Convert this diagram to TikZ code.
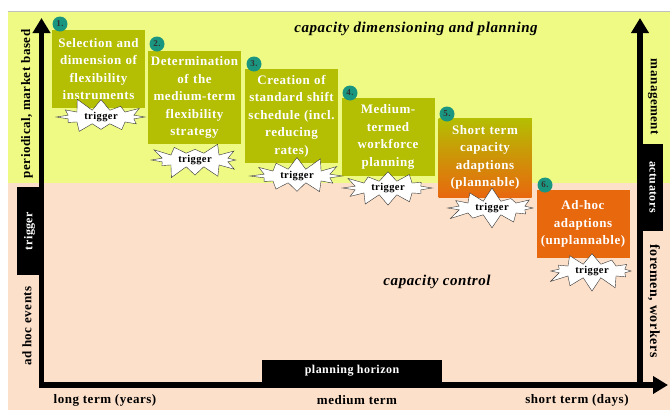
\documentclass[tikz,border=0pt]{standalone}
\usepackage{fontspec}
\setmainfont{Liberation Serif}[LetterSpace=4]
\usetikzlibrary{shapes.symbols, arrows.meta}

\definecolor{planyellow}{RGB}{238,250,132}
\definecolor{ctrlpeach}{RGB}{252,224,202}
\definecolor{stepolive}{RGB}{180,190,2}
\definecolor{steporange}{RGB}{232,104,14}
\definecolor{badgeteal}{RGB}{26,150,128}

\tikzstyle{stepbox} = [rectangle, minimum width=93pt, text width=90pt, inner xsep=1.5pt, inner ysep=0pt, align=center, text=white, fill=stepolive, font=\bfseries\fontsize{13}{17.5}\selectfont]
\tikzstyle{adhoc} = [stepbox, fill=steporange]
\tikzstyle{badge} = [circle, minimum size=15pt, inner sep=0pt, fill=badgeteal, text=black!80, font=\bfseries\fontsize{9}{9}\selectfont]
\tikzstyle{trig} = [starburst, starburst points=12, starburst point height=14pt, draw=black!80, fill=white, thin, minimum width=96pt, minimum height=42pt, inner sep=0pt, font=\bfseries\fontsize{10.5}{10.5}\selectfont]
\tikzstyle{blackbox} = [rectangle, fill=black, text=white, inner sep=0pt, font=\bfseries\fontsize{12}{12}\selectfont]
\tikzstyle{lbl} = [inner sep=0pt, font=\bfseries\fontsize{13}{13}\selectfont]
\tikzstyle{title} = [font=\bfseries\itshape\fontsize{15}{15}\selectfont]
\tikzstyle{axis} = [line width=5.5pt, line cap=rect, -{Triangle[width=17pt,length=15pt]}]

\begin{document}
\begin{tikzpicture}[x=1pt, y=1pt]
\useasboundingbox (0,0) rectangle (670,-410);
\fill [planyellow] (8,-11) rectangle (670,-183);
\fill [ctrlpeach] (8,-183) rectangle (670,-410);
\draw [black!25] (8,-11) -- (670,-11);

\node (plan) [title, xshift=416pt, yshift=-29pt] {capacity dimensioning and planning};
\node (ctrl) [title, xshift=437pt, yshift=-282pt] {capacity control};

\node (s1) [stepbox, minimum height=78pt, xshift=98.5pt, yshift=-69pt] {Selection and\\dimension of\\flexibility\\instruments};
\node (s2) [stepbox, minimum height=93pt, xshift=194.5pt, yshift=-97.5pt] {Determination\\of the\\medium-term\\flexibility\\strategy};
\node (s3) [stepbox, minimum height=94pt, xshift=291.5pt, yshift=-116pt] {Creation of\\standard shift\\schedule (incl.\\reducing\\rates)};
\node (s4) [stepbox, minimum height=78pt, xshift=388pt, yshift=-137pt] {Medium-\\termed\\workforce\\planning};
\node (s5) [stepbox, minimum height=79pt, top color=stepolive, bottom color=steporange, xshift=485pt, yshift=-157.5pt] {Short term\\capacity\\adaptions\\(plannable)};
\node (s6) [adhoc, minimum height=68pt, xshift=583pt, yshift=-224pt] {Ad-hoc\\adaptions\\(unplannable)};

\node (n1) [badge, xshift=60pt, yshift=-24pt] {1.};
\node (n2) [badge, xshift=157pt, yshift=-44pt] {2.};
\node (n3) [badge, xshift=254pt, yshift=-64pt] {3.};
\node (n4) [badge, xshift=350pt, yshift=-93pt] {4.};
\node (n5) [badge, xshift=447pt, yshift=-114pt] {5.};
\node (n6) [badge, xshift=545pt, yshift=-185pt] {6.};

\node (t1) [trig, random starburst=11, xshift=101pt, yshift=-117pt] {trigger};
\node (t2) [trig, random starburst=23, xshift=195pt, yshift=-160pt] {trigger};
\node (t3) [trig, random starburst=37, xshift=297pt, yshift=-176pt] {trigger};
\node (t4) [trig, random starburst=41, xshift=388pt, yshift=-188pt] {trigger};
\node (t5) [trig, random starburst=53, xshift=492pt, yshift=-208pt] {trigger};
\node (t6) [trig, random starburst=67, xshift=592pt, yshift=-271pt] {trigger};

% axes
\coordinate (origin) at (41.5,-385);
\coordinate (ytop) at (41.5,-18);
\coordinate (xend) at (668,-385);
\coordinate (rbase) at (640,-385);
\coordinate (rtop) at (640,-18);
\draw [axis] (origin) -- (ytop);
\draw [axis] (origin) -- (xend);
\draw [axis] (rbase) -- (rtop);

\node (trg) [blackbox, minimum width=88pt, minimum height=25pt, xshift=29.5pt, yshift=-231pt, rotate=90] {trigger};
\node (act) [blackbox, minimum width=87pt, minimum height=20pt, xshift=653pt, yshift=-187pt, rotate=-90] {actuators};
\node (hor) [blackbox, minimum width=180pt, minimum height=22pt, xshift=352pt, yshift=-371pt] {planning horizon};

\node (per) [lbl, xshift=27pt, yshift=-104pt, rotate=90] {periodical, market based};
\node (adh) [lbl, xshift=27pt, yshift=-326pt, rotate=90] {ad hoc events};
\node (mgt) [lbl, xshift=653pt, yshift=-97pt, rotate=-90] {management};
\node (fw) [lbl, font=\bfseries\fontsize{14}{14}\selectfont, xshift=654pt, yshift=-301pt, rotate=-90] {foremen, workers};
\node (lt) [lbl, xshift=105pt, yshift=-400pt] {long term (years)};
\node (mt) [lbl, xshift=357pt, yshift=-400pt] {medium term};
\node (st) [lbl, xshift=577pt, yshift=-400pt] {short term (days)};
\end{tikzpicture}
\end{document}
